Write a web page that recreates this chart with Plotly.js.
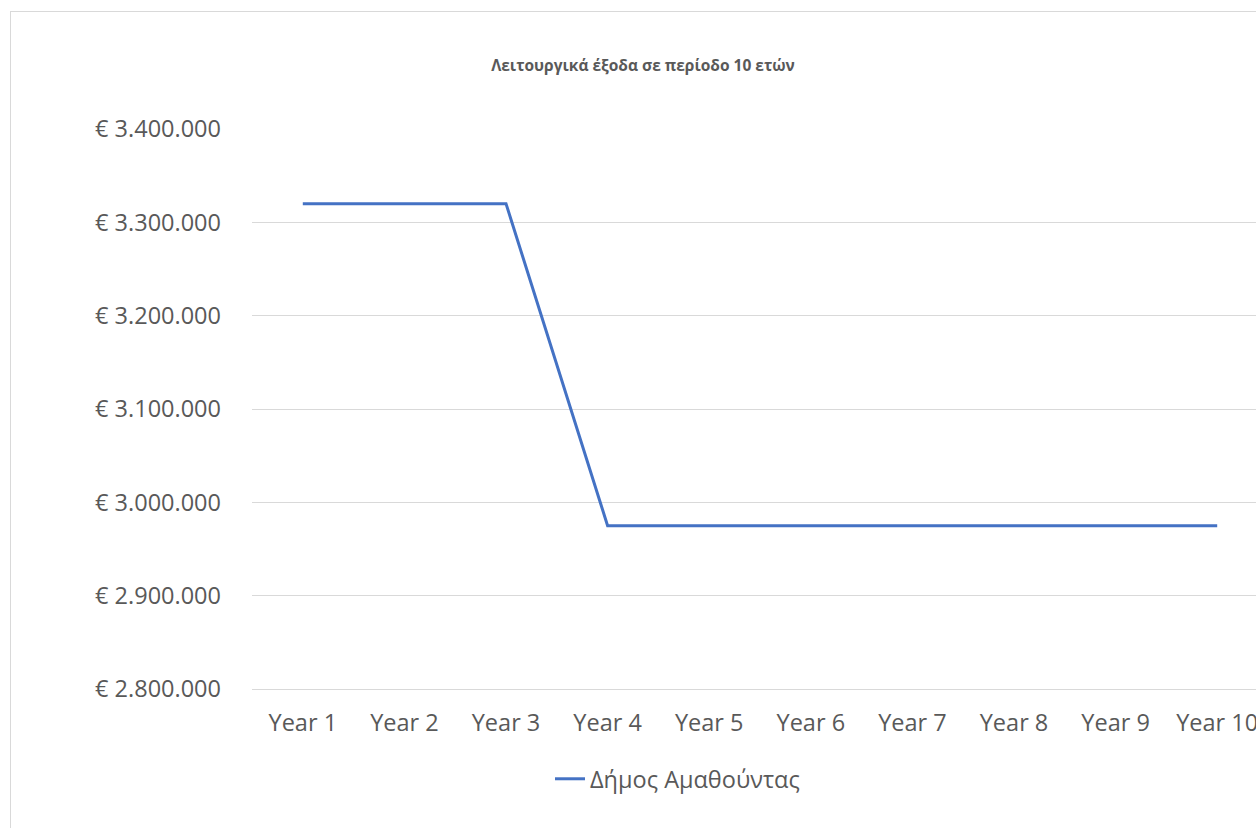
<!DOCTYPE html>
<html>
<head>
<meta charset="utf-8">
<script src="https://cdn.plot.ly/plotly-3.0.1.min.js"></script>
<style>
  html, body { margin: 0; padding: 0; background: #fff; overflow: hidden; width: 1256px; height: 828px; }
  #chart { position: absolute; left: 10px; top: 11px; width: 1300px; height: 850px; border: 1px solid #d9d9d9; box-sizing: border-box; }
</style>
</head>
<body>
<div id="chart"></div>
<script>
const categories = ["Year 1","Year 2","Year 3","Year 4","Year 5","Year 6","Year 7","Year 8","Year 9","Year 10"];
const seriesName = "Δήμος Αμαθούντας";
const seriesValues = [3320000, 3320000, 3320000, 2975000, 2975000, 2975000, 2975000, 2975000, 2975000, 2975000];
const chartTitle = "Λειτουργικά έξοδα σε περίοδο 10 ετών";
const yTicks = [2800000, 2900000, 3000000, 3100000, 3200000, 3300000, 3400000];
const yTickLabels = ["€ 2.800.000", "€ 2.900.000", "€ 3.000.000", "€ 3.100.000", "€ 3.200.000", "€ 3.300.000", "€ 3.400.000"];

const textColor = "#595959";
const font = "Open Sans, Noto Sans, DejaVu Sans, sans-serif";

const trace = {
  x: categories,
  y: seriesValues,
  type: "scatter",
  mode: "lines",
  name: seriesName,
  line: { color: "#4472C4", width: 3 },
  showlegend: true
};

const layout = {
  width: 1300,
  height: 850,
  margin: { l: 241, r: 43, t: 117, b: 173 },
  paper_bgcolor: "#ffffff",
  plot_bgcolor: "#ffffff",
  font: { family: font, color: textColor, size: 23.5 },
  title: {
    text: "<b>" + chartTitle + "</b>",
    font: { family: font, size: 15.5, color: textColor },
    xref: "container", x: 632 / 1300, xanchor: "center",
    yref: "container", y: 1 - 54 / 850, yanchor: "middle"
  },
  xaxis: {
    type: "category",
    range: [-0.5, 9.5],
    showgrid: false,
    zeroline: false,
    showline: true,
    linecolor: "#d9d9d9",
    linewidth: 1,
    ticks: "",
    ticklabelstandoff: 13,
    tickfont: { family: font, size: 23.5, color: textColor },
    fixedrange: true
  },
  yaxis: {
    range: [2800000, 3400000],
    tickmode: "array",
    tickvals: yTicks,
    ticktext: yTickLabels,
    showgrid: true,
    gridcolor: "#d9d9d9",
    gridwidth: 1,
    zeroline: false,
    showline: false,
    ticks: "",
    ticklabelstandoff: 30,
    tickfont: { family: font, size: 23.5, color: textColor },
    fixedrange: true
  },
  showlegend: true,
  legend: {
    orientation: "h",
    x: (549 - 251) / 1016,
    xanchor: "left",
    y: (677 - 767) / 560,
    yanchor: "middle",
    font: { family: font, size: 23.5, color: textColor },
    bgcolor: "rgba(0,0,0,0)"
  }
};

Plotly.newPlot("chart", [trace], layout, { displayModeBar: false, staticPlot: true });
</script>
</body>
</html>
